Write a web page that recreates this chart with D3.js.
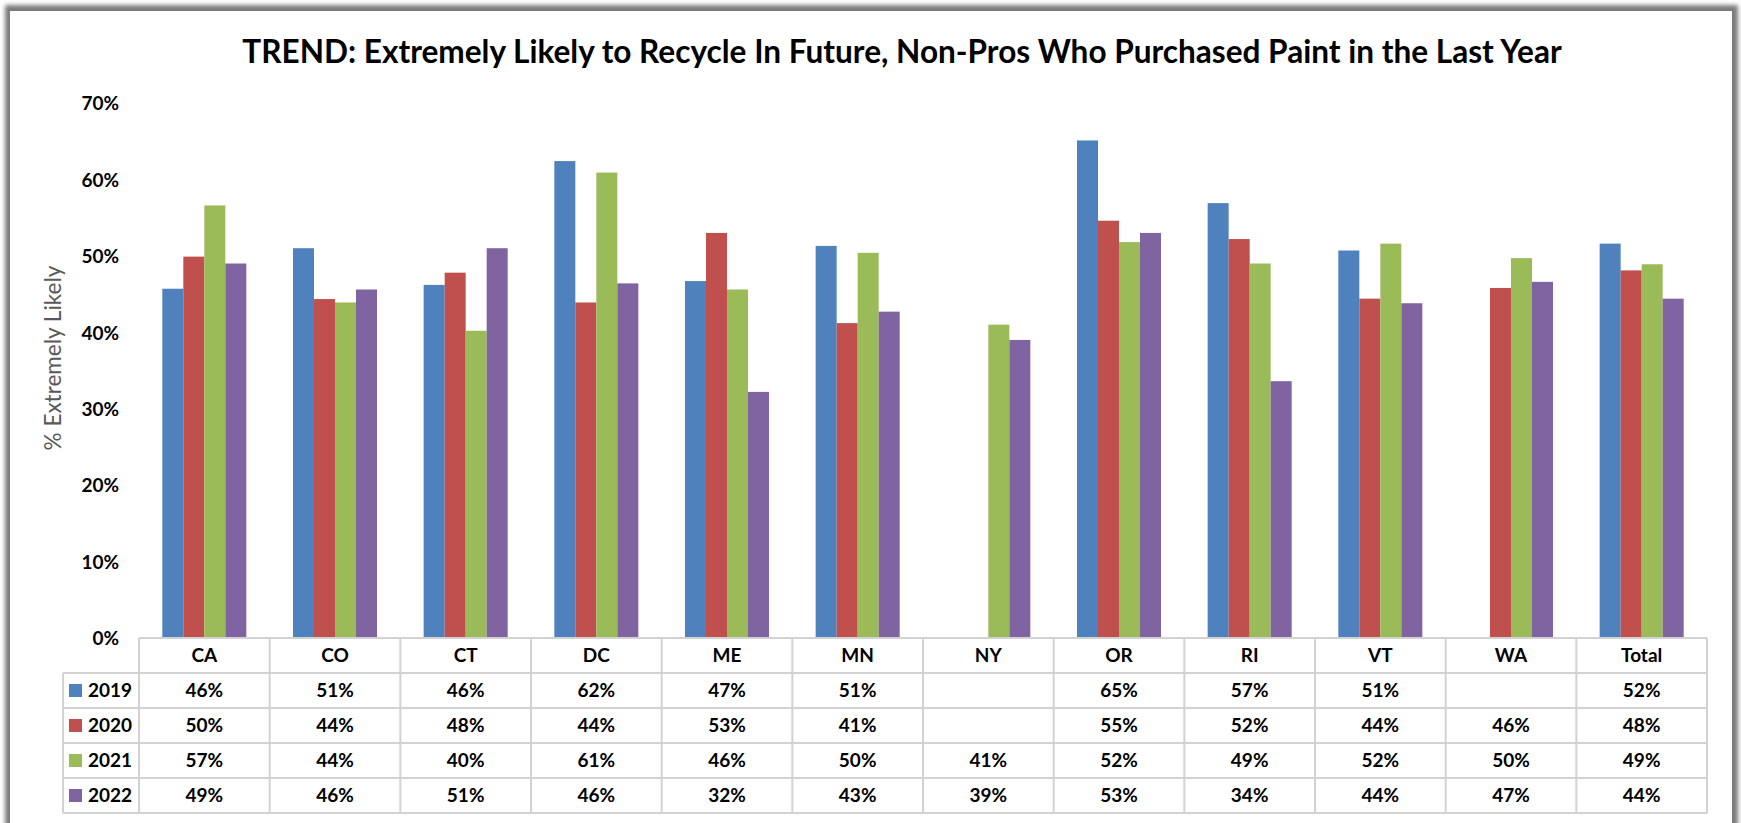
<!DOCTYPE html>
<html>
<head>
<meta charset="utf-8">
<script src="https://cdn.jsdelivr.net/npm/d3@7"></script>
<style>
  html, body { margin: 0; padding: 0; background: #ffffff; }
  svg { display: block; }
  text { font-family: Lato, "Open Sans", sans-serif; }
</style>
</head>
<body>
<svg id="chart" width="1741" height="823"></svg>
<script>
// ---------------- data ----------------
const categories = ["CA", "CO", "CT", "DC", "ME", "MN", "NY", "OR", "RI", "VT", "WA", "Total"];
const years = ["2019", "2020", "2021", "2022"];
const v2019 = [0.457, 0.510, 0.462, 0.624, 0.467, 0.513, null, 0.651, 0.569, 0.507, null, 0.516];
const v2020 = [0.499, 0.4435, 0.478, 0.439, 0.530, 0.412, null, 0.546, 0.522, 0.444, 0.458, 0.481];
const v2021 = [0.566, 0.439, 0.402, 0.609, 0.456, 0.504, 0.410, 0.518, 0.490, 0.516, 0.497, 0.489];
const v2022 = [0.490, 0.456, 0.510, 0.464, 0.322, 0.427, 0.390, 0.530, 0.336, 0.438, 0.466, 0.444];
const yTicks = [0, 0.1, 0.2, 0.3, 0.4, 0.5, 0.6, 0.7];
const colors = ["#4F81BD", "#C0504D", "#9BBB59", "#8064A2"];
const titleText = "TREND: Extremely Likely to Recycle In Future, Non-Pros Who Purchased Paint in the Last Year";
const yTitle = "% Extremely Likely";

const seriesValues = [v2019, v2020, v2021, v2022];
const series = years.map((yr, i) => ({ year: yr, color: colors[i], values: seriesValues[i] }));

// ---------------- layout ----------------
const svg = d3.select("#chart");
const plotLeft = 139, plotRight = 1707, plotTop = 103, baseY = 638;
const tableLeft = 63, headerH = 35, rowH = 35;

const x = d3.scaleBand().domain(categories).range([plotLeft, plotRight]).paddingInner(0).paddingOuter(0);
const xs = d3.scaleBand().domain(years).range([0, x.bandwidth()]).paddingInner(0).paddingOuter(1.11);
const y = d3.scaleLinear().domain([0, 0.7]).range([baseY, plotTop]);
const fmt = d3.format(".0%");

// ---------------- frame ----------------
const defs = svg.append("defs");
const f = defs.append("filter").attr("id", "shadow").attr("x", "-5%").attr("y", "-5%").attr("width", "110%").attr("height", "110%");
f.append("feGaussianBlur").attr("stdDeviation", 2.2);

svg.append("rect").attr("x", 5).attr("y", 5).attr("width", 1733).attr("height", 860)
  .attr("fill", "#7a7a7a").attr("filter", "url(#shadow)");
svg.append("rect").attr("x", 10).attr("y", 11).attr("width", 1722).attr("height", 860)
  .attr("fill", "#ffffff");

// ---------------- title ----------------
const title = svg.append("text")
  .attr("font-weight", "bold").attr("fill", "#000")
  .attr("font-size", 100)
  .text(titleText);
const w100 = title.node().getComputedTextLength();
const titleSize = 100 * 1320 / w100;
title.attr("font-size", titleSize).attr("x", 902).attr("y", 63).attr("text-anchor", "middle");

// ---------------- y axis ----------------
const yAxis = d3.axisLeft(y).tickValues(yTicks).tickFormat(fmt).tickSize(0).tickPadding(0);
const yg = svg.append("g").attr("transform", "translate(119,0)").call(yAxis);
yg.select(".domain").remove();
yg.selectAll("text")
  .attr("font-family", "Lato, sans-serif")
  .attr("font-size", 19).attr("font-weight", "bold").attr("fill", "#000")
  .attr("dy", "0.36em");

const yt = svg.append("text")
  .attr("text-anchor", "middle").attr("dominant-baseline", "central")
  .attr("font-size", 100).attr("fill", "#595959")
  .text(yTitle);
const yw = yt.node().getComputedTextLength();
yt.attr("font-size", 100 * 185 / yw).attr("transform", "translate(52,358) rotate(-90)");

// ---------------- bars ----------------
const gBars = svg.append("g");
series.forEach(s => {
  gBars.append("g").selectAll("rect")
    .data(categories.map((c, i) => ({ cat: c, v: s.values[i] })).filter(d => d.v != null))
    .join("rect")
    .attr("x", d => x(d.cat) + xs(s.year))
    .attr("width", xs.bandwidth())
    .attr("y", d => y(d.v))
    .attr("height", d => y(0) - y(d.v))
    .attr("fill", s.color);
});

// ---------------- data table ----------------
const gT = svg.append("g");
const lineColor = "#d2d2d2";
const tableBottom = baseY + headerH + rowH * years.length;
const rowTop = i => baseY + headerH + rowH * i;

gT.append("line").attr("x1", plotLeft).attr("x2", plotRight).attr("y1", baseY).attr("y2", baseY)
  .attr("stroke", lineColor).attr("stroke-width", 2);
d3.range(years.length + 1).forEach(i => {
  gT.append("line").attr("x1", tableLeft).attr("x2", plotRight)
    .attr("y1", rowTop(i)).attr("y2", rowTop(i))
    .attr("stroke", lineColor).attr("stroke-width", 2);
});
gT.append("line").attr("x1", tableLeft).attr("x2", tableLeft).attr("y1", rowTop(0)).attr("y2", tableBottom)
  .attr("stroke", lineColor).attr("stroke-width", 2);
categories.forEach(c => {
  gT.append("line").attr("x1", x(c)).attr("x2", x(c)).attr("y1", baseY).attr("y2", tableBottom)
    .attr("stroke", lineColor).attr("stroke-width", 2);
});
gT.append("line").attr("x1", plotRight).attr("x2", plotRight).attr("y1", baseY).attr("y2", tableBottom)
  .attr("stroke", lineColor).attr("stroke-width", 2);

gT.selectAll("text.hdr").data(categories).join("text")
  .attr("class", "hdr")
  .attr("x", d => x(d) + x.bandwidth() / 2)
  .attr("y", baseY + headerH / 2)
  .attr("dy", "0.36em")
  .attr("text-anchor", "middle").attr("font-size", 19).attr("font-weight", "bold").attr("fill", "#000")
  .text(d => d);

series.forEach((s, i) => {
  const cy = rowTop(i) + rowH / 2;
  gT.append("rect").attr("x", 69).attr("y", cy - 6.5).attr("width", 13).attr("height", 13).attr("fill", s.color);
  gT.append("text").attr("x", 88).attr("y", cy).attr("dy", "0.36em")
    .attr("font-size", 19).attr("font-weight", "bold").attr("fill", "#000")
    .text(s.year);
  gT.append("g").selectAll("text")
    .data(categories.map((c, j) => ({ cat: c, v: s.values[j] })).filter(d => d.v != null))
    .join("text")
    .attr("x", d => x(d.cat) + x.bandwidth() / 2)
    .attr("y", cy).attr("dy", "0.36em")
    .attr("text-anchor", "middle").attr("font-size", 19).attr("font-weight", "bold").attr("fill", "#000")
    .text(d => fmt(d.v));
});
</script>
</body>
</html>
